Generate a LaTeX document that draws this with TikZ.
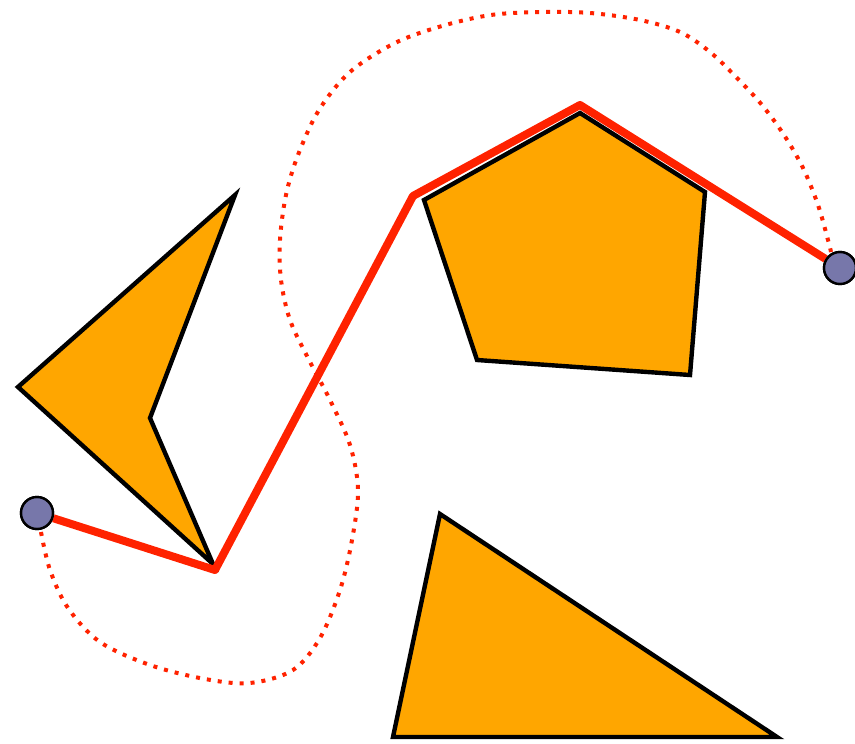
\documentclass[tikz,border=0pt]{standalone}
\definecolor{shapefill}{RGB}{255,166,0}
\definecolor{pathred}{RGB}{255,34,0}
\definecolor{endpt}{RGB}{119,119,170}
\tikzset{
  obstacle/.style={draw=black,fill=shapefill,line width=2.2pt,line join=miter},
  route/.style={draw=pathred,line width=4pt,line join=round},
  smoothroute/.style={draw=pathred,line width=2pt,dash pattern=on 2pt off 3.5pt},
  endpoint/.style={circle,draw=black,fill=endpt,line width=1.2pt,minimum size=16pt,inner sep=0pt}
}
\begin{document}
\begin{tikzpicture}[x=0.5pt,y=-0.5pt]
\useasboundingbox (0,0) rectangle (855,743);
% obstacles
\coordinate (k1) at (235,195);
\coordinate (k2) at (18,387);
\coordinate (k3) at (213,564);
\coordinate (k4) at (150,418);
\draw[obstacle] (k1) -- (k2) -- (k3) -- (k4) -- cycle;
\coordinate (p1) at (424,200);
\coordinate (p2) at (580,113);
\coordinate (p3) at (705,192);
\coordinate (p4) at (690,375);
\coordinate (p5) at (477,360);
\draw[obstacle] (p1) -- (p2) -- (p3) -- (p4) -- (p5) -- cycle;
\coordinate (t1) at (440,514);
\coordinate (t2) at (393,737);
\coordinate (t3) at (777,737);
\draw[obstacle] (t1) -- (t2) -- (t3) -- cycle;
% end points
\node[endpoint] (s) at (37,513) {};
\node[endpoint] (g) at (840,268) {};
% smooth route
\draw[smoothroute] plot[smooth,tension=0.55] coordinates {
 (41,532) (50,570) (68,608) (100,642) (150,665) (205,679) (250,683)
 (293,670) (320,638) (340,590) (352,540) (358,490)
 (350,445) (330,400) (308,358) (290,320) (281,280) (280,240) (286,195)
 (298,155) (319,110) (350,72) (395,43) (442,26) (491,15)
 (541,12) (590,13) (640,20) (680,32) (710,52) (737,78) (762,105)
 (784,135) (803,168) (818,205) (828,240) (831,252)};
% shortest route
\coordinate (r1) at (215,570);
\coordinate (r2) at (413,196);
\coordinate (r3) at (580,105);
\draw[route] (s) -- (r1) -- (r2) -- (r3) -- (g);
\node[endpoint] at (s) {};
\node[endpoint] at (g) {};
\end{tikzpicture}
\end{document}
